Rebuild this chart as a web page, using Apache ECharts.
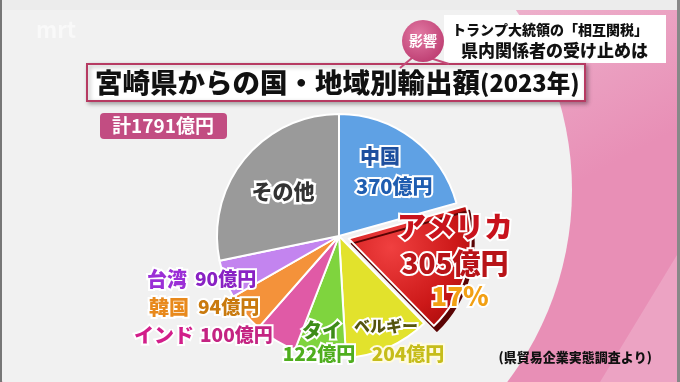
<!DOCTYPE html>
<html>
<head>
<meta charset="utf-8">
<script src="https://cdn.jsdelivr.net/npm/echarts@6/dist/echarts.min.js"></script>
<style>
html,body{margin:0;padding:0;background:#efefef;}
#main{width:680px;height:382px;}
</style>
</head>
<body>
<div id="main"></div>
<script>
// ---- data ----
const categories = ['中国', 'アメリカ', 'ベルギー', 'タイ', 'インド', '韓国', '台湾', 'その他'];
const values = [370, 305, 204, 122, 100, 94, 90, 506];
const total = 1791;
const usShare = '17%';
const unit = '億円';
const titleMain = '宮崎県からの国・地域別輸出額';
const titleYear = '(2023年)';
const headline = ['トランプ大統領の「相互関税」', '県内関係者の受け止めは'];
const badge = '影響';
const source = '(県貿易企業実態調査より)';

// ---- styles ----
const sliceColors = ['#5fa1e4', null, '#e2e22c', '#7fd43e', '#e05aa6', '#f4923a', '#c384ef', '#9a9a9a'];
const FONT = '"Noto Sans CJK JP", "Noto Sans", sans-serif';

const usGradient = new echarts.graphic.RadialGradient(0.35, 0.35, 0.9, [
  {offset: 0, color: '#f04040'},
  {offset: 0.6, color: '#cc1818'},
  {offset: 1, color: '#9a0606'}
]);

const pieData = categories.map((c, i) => {
  const d = {name: c, value: values[i], itemStyle: {color: sliceColors[i]}};
  if (i === 1) {
    d.selected = true;
    d.itemStyle = {
      color: usGradient,
      shadowColor: '#5a0404',
      shadowOffsetX: 3,
      shadowOffsetY: 5,
      shadowBlur: 0
    };
  }
  return d;
});

function txt(text, x, y, size, fill, opts) {
  opts = opts || {};
  return {
    type: 'text', x: x, y: y, z: 20,
    style: Object.assign({
      text: text,
      font: '900 ' + size + 'px ' + FONT,
      fill: fill,
      stroke: opts.stroke === undefined ? '#ffffff' : opts.stroke,
      lineWidth: opts.lw === undefined ? 4 : opts.lw,
      textAlign: opts.align || 'left',
      textVerticalAlign: 'middle',
      shadowColor: opts.shadow || 'rgba(255,255,255,0)',
      shadowBlur: opts.shadowBlur || 0
    }, opts.extra || {})
  };
}

const labels = [
  txt(categories[0], 360, 156, 20, '#1e4f9e', {lw: 4}),
  txt(values[0] + unit, 356, 186, 20, '#1f5db0', {lw: 4}),
  txt(categories[7], 283, 191, 21, '#333333', {align: 'center', lw: 5}),
  txt(categories[1], 455, 227, 29, '#c8121c', {align: 'center', lw: 4, shadow: 'rgba(0,0,0,0.4)', shadowBlur: 3}),
  txt(values[1] + unit, 455, 263, 28, '#b81418', {align: 'center', lw: 4, shadow: 'rgba(0,0,0,0.4)', shadowBlur: 3}),
  txt(usShare, 460, 296, 26, '#f2a014', {align: 'center', lw: 4, shadow: 'rgba(0,0,0,0.4)', shadowBlur: 3}),
  txt(categories[6], 147, 279, 20, '#9b2fd6', {lw: 4}),
  txt(values[6] + unit, 195, 279, 19, '#8a22c4', {lw: 4}),
  txt(categories[5], 149, 307, 20, '#e8891c', {lw: 4}),
  txt(values[5] + unit, 198, 307, 19, '#c97a0e', {lw: 4}),
  txt(categories[4], 134, 335, 20, '#d21e8a', {lw: 4}),
  txt(values[4] + unit, 200, 335, 19, '#c42482', {lw: 4}),
  txt(categories[3], 322, 330, 20, '#3d8c18', {align: 'center', lw: 4}),
  txt(values[3] + unit, 319, 354, 19, '#4fae1e', {align: 'center', lw: 4}),
  txt(categories[2], 386, 326, 16, '#55550e', {align: 'center', lw: 4}),
  txt(values[2] + unit, 408, 354, 19, '#c6bd1a', {align: 'center', lw: 4, extra: {stroke: '#fffbe0'}})
];

const chart = echarts.init(document.getElementById('main'), null, {renderer: 'canvas'});

const option = {
  backgroundColor: '#efefef',
  animation: false,
  graphic: [
    // pink background on the right
    {type: 'rect', z: -10, shape: {x: 0, y: 0, width: 680, height: 382},
     style: {fill: new echarts.graphic.LinearGradient(0, 0, 0.3, 1, [
       {offset: 0, color: '#f6e6ee'}, {offset: 0.5, color: '#eeb6cf'}, {offset: 1, color: '#e88fb6'}])}},
    {type: 'circle', z: -9, shape: {cx: 255, cy: 190, r: 317}, style: {fill: '#f1f1f1'}},
    {type: 'polygon', z: -8, shape: {points: [[600, 382], [680, 250], [680, 382]]},
     style: {fill: 'rgba(255,255,255,0.18)'}},
    {type: 'rect', z: -7, shape: {x: 0, y: 0, width: 680, height: 10}, style: {fill: '#ececec'}},
    {type: 'rect', z: -5, shape: {x: 0, y: 0, width: 2, height: 382}, style: {fill: '#777'}},
    {type: 'rect', z: -5, shape: {x: 677, y: 0, width: 3, height: 382}, style: {fill: '#888'}},
    // watermark
    {type: 'text', x: 36, y: 30, z: -4, style: {text: 'mrt', font: 'bold 22px ' + FONT, fill: 'rgba(255,255,255,0.55)', textVerticalAlign: 'middle'}},
    // headline box
    {type: 'rect', z: 5, shape: {x: 444, y: 15, width: 222, height: 48}, style: {fill: '#ffffff'}},
    {type: 'text', x: 648, y: 30, z: 6, style: {text: headline[0], font: '900 14px ' + FONT, fill: '#111', textAlign: 'right', textVerticalAlign: 'middle'}},
    {type: 'text', x: 648, y: 51, z: 6, style: {text: headline[1], font: '900 17px ' + FONT, fill: '#111', textAlign: 'right', textVerticalAlign: 'middle'}},
    // pointer from badge
    {type: 'polyline', z: 6, shape: {points: [[449, 64], [430, 58], [412, 58], [400, 68]]}, style: {stroke: '#c44a78', lineWidth: 2, fill: null}},
    {type: 'circle', z: 7, shape: {cx: 423, cy: 41, r: 21},
     style: {fill: new echarts.graphic.RadialGradient(0.4, 0.35, 0.8, [{offset: 0, color: '#e27aa4'}, {offset: 1, color: '#b8346a'}])}},
    {type: 'text', x: 423, y: 41, z: 8, style: {text: badge, font: 'bold 14px ' + FONT, fill: '#fff', textAlign: 'center', textVerticalAlign: 'middle'}},
    // title box
    {type: 'rect', z: 5, shape: {x: 87, y: 64, width: 498, height: 37},
     style: {fill: '#ffffff', stroke: '#b63a62', lineWidth: 2, shadowColor: 'rgba(0,0,0,0.3)', shadowBlur: 4, shadowOffsetX: 2, shadowOffsetY: 2}},
    {type: 'text', x: 95, y: 83, z: 6, style: {
      text: '{a|' + titleMain + '}{b|' + titleYear + '}',
      textVerticalAlign: 'middle',
      rich: {
        a: {font: '900 27.5px ' + FONT, fill: '#111'},
        b: {font: '900 23.5px ' + FONT, fill: '#111'}
      }
    }},
    // total box
    {type: 'rect', z: 5, shape: {x: 100, y: 113, width: 127, height: 26, r: 4}, style: {fill: '#c24d82'}},
    {type: 'text', x: 163, y: 126, z: 6, style: {text: '計' + total + unit, font: 'bold 19px ' + FONT, fill: '#fff', textAlign: 'center', textVerticalAlign: 'middle'}},
    // source
    {type: 'text', x: 652, y: 357, z: 6, style: {text: source, font: '900 13px ' + FONT, fill: '#111', textAlign: 'right', textVerticalAlign: 'middle'}}
  ].concat(labels),
  series: [{
    type: 'pie',
    center: [339, 236],
    radius: [0, 122],
    startAngle: 90,
    clockwise: true,
    selectedMode: 'single',
    selectedOffset: 10,
    avoidLabelOverlap: false,
    label: {show: false},
    labelLine: {show: false},
    emphasis: {disabled: true},
    itemStyle: {borderColor: '#ffffff', borderWidth: 2},
    data: pieData
  }]
};
chart.setOption(option);
</script>
</body>
</html>
